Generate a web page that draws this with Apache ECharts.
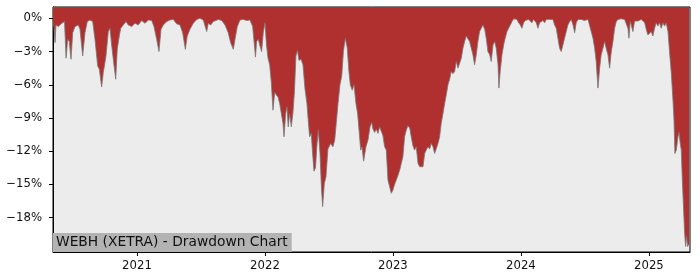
<!DOCTYPE html>
<html><head><meta charset="utf-8">
<script src="https://cdn.jsdelivr.net/npm/echarts@6/dist/echarts.min.js"></script>
<style>html,body{margin:0;padding:0;background:#fff}#c{width:700px;height:280px}</style>
</head><body><div id="c"></div><script>
const years = [2020.344,2020.352,2020.360,2020.367,2020.385,2020.412,2020.434,2020.446,2020.459,2020.471,
2020.485,2020.498,2020.516,2020.529,2020.542,2020.555,2020.576,2020.594,2020.612,2020.633,
2020.654,2020.672,2020.693,2020.706,2020.724,2020.737,2020.758,2020.776,2020.789,2020.803,
2020.815,2020.834,2020.846,2020.862,2020.873,2020.893,2020.914,2020.932,2020.959,2020.985,
2021.010,2021.037,2021.063,2021.089,2021.115,2021.133,2021.154,2021.172,2021.188,2021.206,
2021.232,2021.258,2021.284,2021.310,2021.336,2021.357,2021.378,2021.393,2021.414,2021.440,
2021.467,2021.492,2021.518,2021.545,2021.557,2021.576,2021.596,2021.617,2021.635,2021.662,
2021.688,2021.713,2021.732,2021.753,2021.766,2021.784,2021.805,2021.831,2021.857,2021.883,
2021.904,2021.926,2021.935,2021.948,2021.961,2021.974,2021.987,2022.000,2022.012,2022.024,
2022.037,2022.049,2022.063,2022.076,2022.088,2022.102,2022.115,2022.128,2022.141,2022.149,
2022.162,2022.172,2022.182,2022.193,2022.206,2022.219,2022.231,2022.242,2022.254,2022.266,
2022.282,2022.297,2022.313,2022.328,2022.340,2022.349,2022.362,2022.371,2022.383,2022.395,
2022.407,2022.417,2022.430,2022.442,2022.451,2022.464,2022.477,2022.492,2022.513,2022.531,
2022.545,2022.557,2022.571,2022.586,2022.600,2022.613,2022.628,2022.643,2022.656,2022.667,
2022.682,2022.696,2022.711,2022.724,2022.735,2022.748,2022.758,2022.771,2022.789,2022.805,
2022.821,2022.834,2022.844,2022.857,2022.870,2022.883,2022.896,2022.909,2022.922,2022.935,
2022.948,2022.961,2022.974,2022.987,2023.000,2023.013,2023.026,2023.039,2023.053,2023.065,
2023.078,2023.091,2023.104,2023.117,2023.131,2023.143,2023.156,2023.169,2023.182,2023.196,
2023.209,2023.221,2023.235,2023.248,2023.260,2023.274,2023.287,2023.299,2023.313,2023.326,
2023.339,2023.352,2023.365,2023.377,2023.391,2023.404,2023.417,2023.430,2023.443,2023.456,
2023.469,2023.482,2023.495,2023.508,2023.521,2023.534,2023.547,2023.560,2023.573,2023.586,
2023.599,2023.612,2023.625,2023.638,2023.651,2023.664,2023.677,2023.690,2023.703,2023.717,
2023.729,2023.742,2023.756,2023.768,2023.782,2023.795,2023.807,2023.821,2023.828,2023.838,
2023.852,2023.865,2023.877,2023.891,2023.904,2023.917,2023.930,2023.943,2023.956,2023.969,
2023.982,2023.995,2024.008,2024.021,2024.034,2024.047,2024.060,2024.073,2024.086,2024.098,
2024.110,2024.120,2024.133,2024.146,2024.159,2024.172,2024.185,2024.198,2024.211,2024.224,
2024.237,2024.250,2024.263,2024.276,2024.289,2024.302,2024.315,2024.328,2024.341,2024.354,
2024.367,2024.381,2024.393,2024.407,2024.420,2024.432,2024.446,2024.459,2024.471,2024.485,
2024.498,2024.510,2024.524,2024.537,2024.549,2024.563,2024.576,2024.588,2024.602,2024.615,
2024.627,2024.641,2024.654,2024.666,2024.680,2024.693,2024.706,2024.719,2024.732,2024.745,
2024.758,2024.771,2024.784,2024.797,2024.810,2024.823,2024.836,2024.844,2024.854,2024.867,
2024.875,2024.888,2024.901,2024.914,2024.927,2024.940,2024.953,2024.967,2024.979,2024.992,
2025.005,2025.018,2025.031,2025.044,2025.057,2025.070,2025.083,2025.096,2025.109,2025.122,
2025.135,2025.149,2025.161,2025.174,2025.188,2025.196,2025.203,2025.214,2025.227,2025.235,
2025.245,2025.253,2025.260,2025.271,2025.279,2025.287,2025.295,2025.302,2025.313];
const drawdown = [-0.4,-0.8,-2.2,-0.6,-0.75,-0.45,-0.3,-3.6,-1.9,-2.1,
-3.7,-1.3,-0.75,-0.9,-0.6,-1.0,-3.4,-1.3,-0.3,-0.15,
-0.3,-1.9,-4.3,-4.6,-6.2,-4.9,-3.4,-1.2,-0.9,-2.5,
-3.7,-5.5,-2.8,-1.6,-0.9,-0.6,-0.3,-0.6,-0.75,-0.45,
-0.6,-0.2,-0.45,-0.15,-0.2,-0.75,-1.9,-3.0,-1.0,-0.6,
-0.3,-0.15,-0.1,-0.5,-0.6,-1.3,-2.8,-1.6,-1.0,-0.45,
-0.1,0,-0.15,-1.2,-0.45,-0.6,-0.3,-0.2,-0.1,-0.2,
-0.6,-1.3,-2.2,-2.8,-1.9,-0.75,-0.15,-0.1,-0.2,-0.15,
-0.75,-3.5,-2.1,-1.9,-2.5,-3.0,-1.3,-0.4,-2.4,-3.6,
-4.2,-5.7,-8.3,-6.7,-6.9,-7.1,-7.7,-8.6,-9.5,-10.7,
-8.6,-8.0,-9.8,-8.6,-9.8,-8.5,-6.5,-3.4,-2.9,-3.8,
-3.7,-4.2,-6.4,-7.7,-9.5,-10.7,-10.4,-12.0,-13.8,-13.5,
-11.3,-10.1,-12.2,-15.5,-17.0,-14.9,-14.3,-11.8,-11.3,-11.6,
-11.0,-9.5,-7.7,-6.0,-5.2,-3.0,-1.8,-2.7,-4.8,-6.0,
-6.5,-6.0,-7.7,-8.6,-10.1,-11.9,-11.6,-12.9,-11.6,-11.0,
-9.8,-9.4,-10.0,-10.3,-10.0,-10.4,-9.8,-10.2,-10.6,-11.6,
-11.9,-14.6,-15.2,-15.8,-15.5,-15.0,-14.6,-14.2,-13.7,-13.1,
-12.5,-10.7,-10.1,-9.7,-9.9,-10.7,-11.5,-11.9,-11.6,-13.1,
-13.4,-13.3,-13.4,-12.2,-11.9,-11.6,-11.8,-11.3,-11.6,-12.2,
-12.1,-11.3,-10.7,-9.5,-8.6,-7.7,-6.9,-6.0,-5.5,-4.8,
-5.0,-4.8,-3.9,-4.5,-4.6,-3.6,-2.7,-2.1,-1.6,-1.5,
-2.1,-2.7,-3.3,-4.2,-3.3,-2.1,-1.2,-0.9,-0.6,-1.0,
-1.8,-3.0,-3.3,-3.9,-2.4,-2.1,-2.7,-4.2,-6.3,-4.8,
-3.3,-2.4,-1.8,-1.2,-0.9,-0.6,-0.3,-0.05,-0.1,-0.1,
-0.4,-0.6,-0.9,-0.4,-0.2,-0.3,-0.1,-0.2,-0.4,-0.1,
-0.1,-0.4,-0.9,-0.4,-0.25,-0.2,-0.4,-0.1,-0.2,-0.1,
-0.25,-0.1,-0.6,-0.9,-1.8,-2.7,-3.0,-2.4,-1.8,-1.2,
-0.6,-0.3,-0.1,-0.6,-1.3,-0.4,-0.1,0,-0.1,-0.1,
-0.2,-0.25,-0.1,-0.25,-1.2,-1.8,-2.7,-3.9,-6.3,-4.5,
-3.3,-2.7,-2.1,-2.7,-3.3,-4.5,-3.0,-2.1,-0.9,-0.3,
-0.1,0,-0.05,-0.1,-0.1,-0.25,-0.9,-1.8,-0.25,-0.2,
-1.2,-0.25,-0.1,-0.25,-0.25,-0.1,-0.25,-0.4,-1.0,-1.5,
-1.35,-1.2,-1.6,-0.9,-0.4,-0.7,-0.4,-0.9,-0.4,-0.7,
-0.4,-1.2,-3.0,-4.8,-7.4,-9.2,-12.2,-11.9,-10.7,-10.3,
-11.3,-11.9,-14.3,-17.3,-19.4,-20.6,-19.7,-20.6,-20.4];
const yTicks = [0,-3,-6,-9,-12,-15,-18];
const xTicks = [2021,2022,2023,2024,2025];
const chartTitle = 'WEBH (XETRA) - Drawdown Chart';

const chart = echarts.init(document.getElementById('c'), null, {renderer:'canvas'});
const font = 'DejaVu Sans';
chart.setOption({
  animation:false,
  title:{text:chartTitle, left:53, top:233, padding:[1,4,1,3], backgroundColor:'#b3b3b3',
    textStyle:{fontFamily:font, fontSize:13.8, fontWeight:'normal', color:'#111', lineHeight:17}},
  grid:{left:53, right:10, top:7, bottom:28, show:true, backgroundColor:'#ececec', borderColor:'#000', borderWidth:1},
  xAxis:{type:'value', min:2020.344, max:2025.321,
    axisLine:{show:true, onZero:false, lineStyle:{color:'#000', width:1}},
    axisTick:{show:true, length:4, customValues:xTicks, lineStyle:{color:'#000'}},
    axisLabel:{customValues:xTicks, formatter:v=>String(Math.round(v)), fontFamily:font, fontSize:11.7, color:'#111', margin:8},
    splitLine:{show:false}},
  yAxis:{type:'value', min:-21.1, max:1.02,
    axisLine:{show:true, onZero:false, lineStyle:{color:'#000', width:1}},
    axisTick:{show:true, length:4, customValues:yTicks, lineStyle:{color:'#000'}},
    axisLabel:{customValues:yTicks, formatter:v=>(v<0?'\u2212'+Math.abs(v):String(v))+'%', fontFamily:font, fontSize:11.7, color:'#111', margin:11},
    splitLine:{show:false}},
  series:[{type:'line', data:years.map((y,i)=>[y, drawdown[i]]), symbol:'none', smooth:false,
    lineStyle:{color:'rgba(120,120,120,0.8)', width:1},
    areaStyle:{color:'#b03030', opacity:1, origin:'end'}}]
});
</script></body></html>
